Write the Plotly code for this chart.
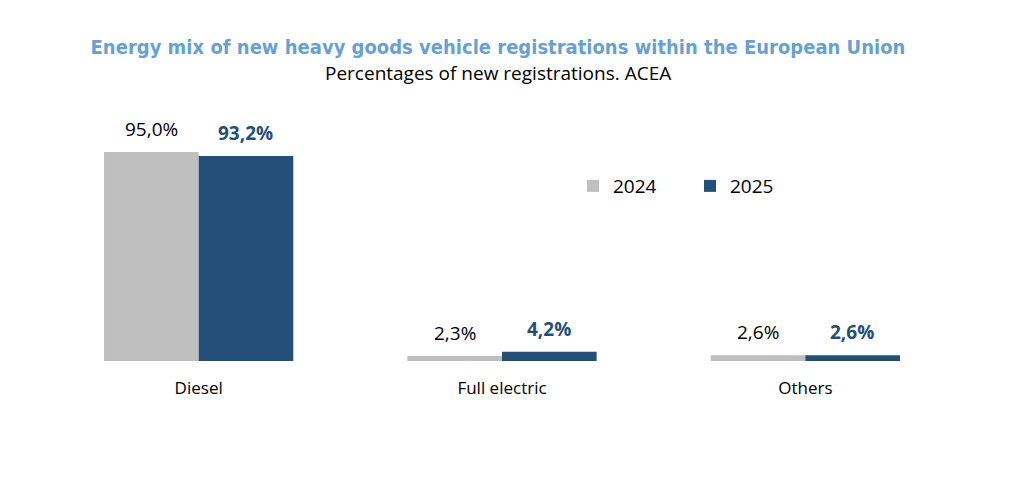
import plotly.graph_objects as go

categories = ["Diesel", "Full electric", "Others"]
years = ["2024", "2025"]
values_2024 = [95.0, 2.3, 2.6]
values_2025 = [93.2, 4.2, 2.6]

title_text = "Energy mix of new heavy goods vehicle registrations within the European Union"
subtitle_text = "Percentages of new registrations. ACEA"

c2024 = "#BFBFBF"
c2025 = "#264F78"
title_color = "#6A9FD4"
body_font = "Open Sans"

def fmt(v):
    return f"{v:.1f}%".replace(".", ",")

fig = go.Figure()
fig.add_trace(go.Bar(name=years[0], x=categories, y=values_2024, marker_color=c2024,
                     marker_line_width=0, hoverinfo="skip"))
fig.add_trace(go.Bar(name=years[1], x=categories, y=values_2025, marker_color=c2025,
                     marker_line_width=0, hoverinfo="skip"))

annotations = []
for cat, v in zip(categories, values_2024):
    annotations.append(dict(x=cat, y=v, xref="x", yref="y", text=fmt(v), showarrow=False,
                            xshift=-47, yshift=8, yanchor="bottom",
                            font=dict(family=body_font, size=19, color="#000000")))
for cat, v in zip(categories, values_2025):
    annotations.append(dict(x=cat, y=v, xref="x", yref="y", text=f"<b>{fmt(v)}</b>", showarrow=False,
                            xshift=47, yshift=8, yanchor="bottom",
                            font=dict(family=body_font, size=19, color=c2025)))

annotations.append(dict(x=0.4956, y=1.19, xref="paper", yref="paper", text=subtitle_text,
                        showarrow=False, xanchor="center", yanchor="middle",
                        font=dict(family=body_font, size=19, color="#000000")))

fig.update_layout(
    width=1024, height=491,
    margin=dict(l=39, r=75, t=111, b=138),
    paper_bgcolor="white", plot_bgcolor="white",
    barmode="group", bargap=0.376, bargroupgap=0,
    title=dict(
        text=f"<b>{title_text}</b>",
        x=0.4785, xanchor="center", y=0.9206, yanchor="middle",
        font=dict(family="DejaVu Sans Condensed, Liberation Sans Narrow", size=20, color=title_color),
    ),
    showlegend=True,
    legend=dict(orientation="h", x=0.578, xanchor="left", y=0.723, yanchor="middle",
                font=dict(family=body_font, size=19, color="#000000"),
                entrywidth=72, bgcolor="rgba(0,0,0,0)"),
    xaxis=dict(showline=False, showgrid=False, zeroline=False, ticks="",
               tickfont=dict(family=body_font, size=17, color="#000000"),
               ticklabelstandoff=15),
    yaxis=dict(range=[0, 110], visible=False, showgrid=False, zeroline=False),
    annotations=annotations,
)

fig.write_html("out.html")
